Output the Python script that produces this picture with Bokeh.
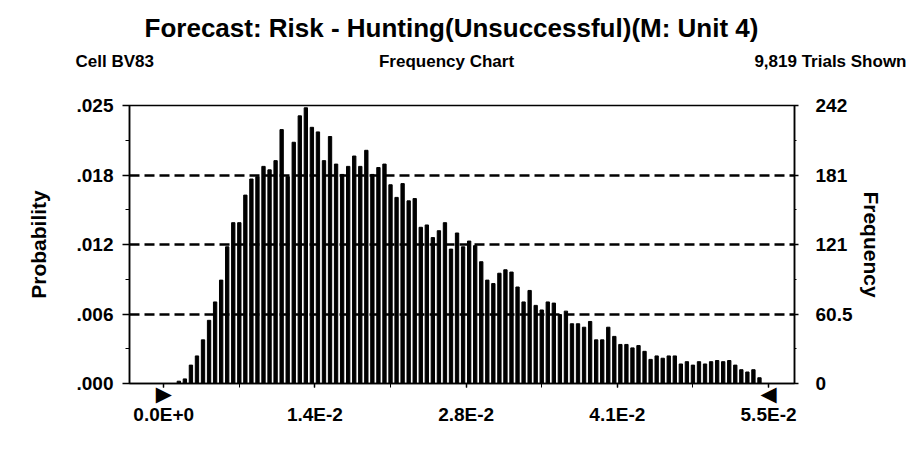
from bokeh.plotting import figure
from bokeh.models import Range1d, LinearAxis, FixedTicker
from bokeh.embed import file_html
from bokeh.resources import INLINE
from bokeh.core.properties import value

# ---- data ----
counts = [0, 0, 2, 4, 16, 24, 38, 55, 71, 90,
          119, 140, 140, 164, 178, 180, 189, 186, 194, 221,
          180, 210, 233, 240, 223, 219, 194, 215, 191, 182,
          189, 198, 189, 203, 182, 188, 191, 173, 162, 174,
          159, 161, 136, 138, 127, 133, 140, 117, 131, 119,
          124, 120, 106, 90, 87, 96, 99, 97, 84, 71,
          81, 68, 64, 71, 70, 60, 63, 52, 52, 49,
          54, 38, 38, 49, 41, 34, 34, 31, 33, 28,
          21, 24, 22, 24, 24, 17, 19, 16, 19, 17,
          19, 20, 19, 20, 16, 12, 10, 12, 5, 0]
bin_start = 0.0
bin_width = 0.00055
x_tick_values = [0.0, 0.01375, 0.0275, 0.04125, 0.055]
x_tick_labels = ["0.0E+0", "1.4E-2", "2.8E-2", "4.1E-2", "5.5E-2"]
freq_max = 242
freq_ticks = [0, 60.5, 121, 181.5, 242]
freq_labels = ["0", "60.5", "121", "181", "242"]
prob_labels = [".000", ".006", ".012", ".018", ".025"]
title_text = "Forecast: Risk - Hunting(Unsuccessful)(M: Unit 4)"
header_texts = ["Cell BV83", "Frequency Chart", "9,819 Trials Shown"]
y_left_title = "Probability"
y_right_title = "Frequency"

FONT = "Liberation Sans"
W = 912
HEAD_H = 80
MAIN_H = 387

centers = [bin_start + (i + 0.5) * bin_width for i in range(len(counts))]
bin_end = bin_start + len(counts) * bin_width

# ---------- header (titles), its own root so its frame spans the full width ----------
h = figure(width=W, height=HEAD_H, output_backend="svg", toolbar_location=None,
           x_range=Range1d(0, W), y_range=Range1d(HEAD_H, 0),
           min_border=0, x_axis_location=None, y_axis_location=None)
h.outline_line_color = None
h.grid.visible = False
h.background_fill_color = "white"
h.border_fill_color = "white"
h.text(x=[451], y=[27], text=[title_text], text_font=value(FONT),
       text_font_style="bold", text_font_size="26px", text_align="center",
       text_baseline="middle", text_color="black")
h.text(x=[75, 446, 906], y=[61, 61, 61], text=header_texts, text_font=value(FONT),
       text_font_style="bold", text_font_size="17px",
       text_align=["left", "center", "right"], text_baseline="middle",
       text_color="black")

# ---------- main chart ----------
p = figure(width=W, height=MAIN_H, output_backend="svg", toolbar_location=None,
           x_range=Range1d(-0.00311, 0.05736), y_range=Range1d(0, freq_max),
           min_border_left=129, min_border_right=118, min_border_top=25,
           min_border_bottom=84, x_axis_location=None, y_axis_location=None)
p.background_fill_color = "white"
p.border_fill_color = "white"
p.outline_line_color = "black"
p.outline_line_width = 1.5
p.xgrid.visible = False
p.ygrid.ticker = FixedTicker(ticks=freq_ticks[1:-1])
p.ygrid.grid_line_color = "black"
p.ygrid.grid_line_width = 2.5
p.ygrid.grid_line_dash = "10 5"

p.vbar(x=centers, top=counts, width=bin_width * 0.55, color="black")


def style_axis(ax, size="19px"):
    ax.axis_line_color = "black"
    ax.axis_line_width = 1.5
    ax.major_tick_line_color = "black"
    ax.minor_tick_line_color = "black"
    ax.major_tick_line_width = 1.5
    ax.major_label_text_font = FONT
    ax.major_label_text_font_style = "bold"
    ax.major_label_text_font_size = size
    ax.major_label_text_color = "black"
    ax.axis_label_text_font = FONT
    ax.axis_label_text_font_style = "bold"
    ax.axis_label_text_font_size = "21px"
    ax.axis_label_text_color = "black"


y_minor = [freq_max * k / 8 for k in range(9)]

# left: probability
ly = LinearAxis(ticker=FixedTicker(ticks=freq_ticks, minor_ticks=y_minor),
                major_label_overrides={t: l for t, l in zip(freq_ticks, prob_labels)},
                axis_label=y_left_title)
style_axis(ly)
ly.major_tick_out = 7
ly.major_tick_in = 0
ly.minor_tick_out = 4
ly.minor_tick_in = 0
ly.major_label_standoff = 9
ly.axis_label_standoff = 24
p.add_layout(ly, "left")

# right: frequency
ry = LinearAxis(ticker=FixedTicker(ticks=freq_ticks, minor_ticks=y_minor),
                major_label_overrides={t: l for t, l in zip(freq_ticks, freq_labels)},
                axis_label=y_right_title)
style_axis(ry)
ry.major_tick_out = 4
ry.major_tick_in = 0
ry.minor_tick_out = 2
ry.minor_tick_in = 0
ry.major_label_standoff = 17
ry.axis_label_standoff = 5
p.add_layout(ry, "right")

# bottom axis 1: ticks + certainty grabbers at the display-range ends
x_minor = [x_tick_values[0] + k * (x_tick_values[1] - x_tick_values[0]) / 2 for k in range(9)]
grab = {t: "" for t in x_tick_values}
grab[bin_start] = "\u25B6"
grab[bin_end] = "\u25C0"
xa = LinearAxis(ticker=FixedTicker(ticks=x_tick_values, minor_ticks=x_minor),
                major_label_overrides=grab)
style_axis(xa, "21px")
xa.major_label_text_font = "DejaVu Sans"
xa.major_label_text_font_style = "normal"
xa.major_tick_out = 4
xa.major_tick_in = 0
xa.minor_tick_out = 4
xa.minor_tick_in = 0
xa.major_label_standoff = -6
p.add_layout(xa, "below")

# bottom axis 2: numeric labels
xb = LinearAxis(ticker=FixedTicker(ticks=x_tick_values, minor_ticks=[]),
                major_label_overrides={t: l for t, l in zip(x_tick_values, x_tick_labels)})
style_axis(xb)
xb.axis_line_color = None
xb.major_tick_line_color = None
xb.minor_tick_line_color = None
xb.major_tick_out = 0
xb.major_tick_in = 0
xb.major_label_standoff = -5
p.add_layout(xb, "below")

open("out.html", "w").write(file_html([h, p], INLINE))
